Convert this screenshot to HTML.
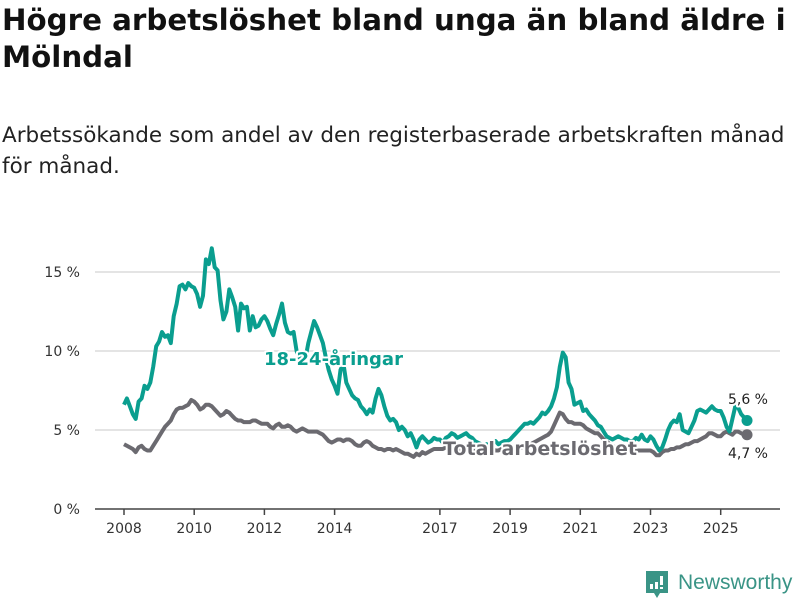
<!DOCTYPE html>
<html><head><meta charset="utf-8"><style>
body{margin:0;width:800px;height:600px;background:#fff;overflow:hidden;font-family:"DejaVu Sans","Liberation Sans",sans-serif;}
h1{position:absolute;left:2px;top:2px;margin:0;font-size:29.3px;font-weight:bold;line-height:37px;color:#111;width:796px}
p{position:absolute;left:2px;top:120px;margin:0;font-size:21.5px;line-height:31px;color:#222;width:796px}
svg{position:absolute;left:0;top:0}
</style></head><body>
<h1>Högre arbetslöshet bland unga än bland äldre i Mölndal</h1>
<p>Arbetssökande som andel av den registerbaserade arbetskraften månad för månad.</p>
<svg id="chart" width="800" height="600"></svg>
<script>
const yTicks=[0,5,10,15];
const xTickYears=[2008,2010,2012,2014,2017,2019,2021,2023,2025];
const startYear=2008;
const youth=[
6.6,7.0,6.5,6.0,5.7,6.8,7.0,7.8,7.6,8.0,9.0,10.3,
10.6,11.2,10.9,11.0,10.5,12.2,13.0,14.1,14.2,13.9,14.3,14.1,
14.0,13.6,12.8,13.5,15.8,15.5,16.5,15.3,15.1,13.2,12.0,12.5,
13.9,13.4,12.8,11.3,13.0,12.7,12.8,11.3,12.2,11.5,11.6,12.0,
12.2,11.9,11.4,11.0,11.7,12.3,13.0,11.8,11.2,11.1,11.2,10.0,
9.6,9.3,9.5,10.5,11.2,11.9,11.5,11.0,10.5,9.6,8.8,8.2,
7.8,7.3,8.8,9.2,8.0,7.6,7.2,7.0,6.9,6.5,6.3,6.0,
6.3,6.1,7.0,7.6,7.2,6.5,5.9,5.6,5.7,5.5,5.0,5.2,
5.0,4.6,4.8,4.4,3.9,4.4,4.6,4.4,4.2,4.3,4.5,4.4,
4.4,4.2,4.5,4.6,4.8,4.7,4.5,4.6,4.7,4.8,4.6,4.5,
4.3,4.2,4.1,4.0,4.1,4.0,4.2,4.3,4.1,4.2,4.3,4.3,
4.4,4.6,4.8,5.0,5.2,5.4,5.4,5.5,5.4,5.6,5.8,6.1,
6.0,6.2,6.5,7.0,7.7,9.0,9.9,9.6,8.0,7.6,6.6,6.7,
6.8,6.2,6.3,6.0,5.8,5.6,5.3,5.2,4.9,4.6,4.5,4.4,
4.5,4.6,4.5,4.4,4.4,4.3,4.3,4.5,4.4,4.7,4.4,4.3,
4.6,4.4,4.0,3.7,3.9,4.4,5.0,5.4,5.6,5.5,6.0,5.0,
4.9,4.8,5.2,5.6,6.2,6.3,6.2,6.1,6.3,6.5,6.3,6.2,
6.2,5.8,5.2,4.9,5.7,6.5,6.4,6.0,5.8,5.6];
const total=[
4.1,4.0,3.9,3.8,3.6,3.9,4.0,3.8,3.7,3.7,4.0,4.3,
4.6,4.9,5.2,5.4,5.6,6.0,6.3,6.4,6.4,6.5,6.6,6.9,
6.8,6.6,6.3,6.4,6.6,6.6,6.5,6.3,6.1,5.9,6.0,6.2,
6.1,5.9,5.7,5.6,5.6,5.5,5.5,5.5,5.6,5.6,5.5,5.4,
5.4,5.4,5.2,5.1,5.3,5.4,5.2,5.2,5.3,5.2,5.0,4.9,
5.0,5.1,5.0,4.9,4.9,4.9,4.9,4.8,4.7,4.5,4.3,4.2,
4.3,4.4,4.4,4.3,4.4,4.4,4.3,4.1,4.0,4.0,4.2,4.3,
4.2,4.0,3.9,3.8,3.8,3.7,3.8,3.8,3.7,3.8,3.7,3.6,
3.5,3.5,3.4,3.3,3.5,3.4,3.6,3.5,3.6,3.7,3.8,3.8,
3.8,3.8,3.9,3.9,3.8,3.8,3.8,3.7,3.7,3.8,3.8,3.8,
3.8,3.7,3.7,3.7,3.8,3.8,3.8,3.7,3.7,3.8,3.8,3.8,
3.8,3.8,3.8,3.9,3.9,4.0,4.1,4.1,4.2,4.3,4.4,4.5,
4.6,4.7,4.9,5.3,5.7,6.1,6.0,5.7,5.5,5.5,5.4,5.4,
5.4,5.3,5.1,5.0,4.9,4.8,4.8,4.6,4.4,4.3,4.1,4.0,
3.9,3.8,3.8,3.8,3.7,3.7,3.7,3.7,3.7,3.7,3.7,3.7,
3.7,3.6,3.4,3.4,3.6,3.7,3.7,3.8,3.8,3.9,3.9,4.0,
4.1,4.1,4.2,4.3,4.3,4.4,4.5,4.6,4.8,4.8,4.7,4.6,
4.6,4.8,4.9,4.8,4.7,4.9,4.9,4.8,4.7,4.7];
const NS='http://www.w3.org/2000/svg';
const svg=document.getElementById('chart');
const x=t=>124+(t-startYear)*35.1;
const y=v=>509-v*15.8;
const xm=i=>x(startYear+i/12);
function mk(tag,attrs,parent){const e=document.createElementNS(NS,tag);for(const k in attrs)e.setAttribute(k,attrs[k]);(parent||svg).appendChild(e);return e;}
yTicks.forEach(v=>{
  if(v>0){const g=mk('line',{x1:95,x2:780,y1:y(v),y2:y(v),stroke:'#dcdcdc','stroke-width':1.5});
  
  }
  const t=mk('text',{x:80,y:y(v)+5,'text-anchor':'end','font-size':14,fill:'#333'});
  t.textContent=v+' %';
  
  
});
const ax=mk('line',{x1:95,x2:780,y1:509,y2:509,stroke:'#444','stroke-width':1.5});


xTickYears.forEach(yr=>{
  const tk=mk('line',{x1:x(yr),x2:x(yr),y1:509,y2:515,stroke:'#444','stroke-width':1.5});
  
  
  const t=mk('text',{x:x(yr),y:533,'text-anchor':'middle','font-size':14,fill:'#333'});
  t.textContent=yr;
  
  
});
function line(data,color,name){
  const p=mk('path',{d:data.map((v,i)=>(i?'L':'M')+xm(i).toFixed(1)+','+y(v).toFixed(1)).join(''),fill:'none',stroke:color,'stroke-width':4,'stroke-linejoin':'round'});
  
  
  const n=data.length-1;
  const c=mk('circle',{cx:xm(n),cy:y(data[n]),r:5.5,fill:color});
  
  
}
line(total,'#6b6a70','total-series-line');
line(youth,'#0a9e8f','youth-series-line');
function label(txt,xx,yy,color,size,weight,anchor,name){
  const t=mk('text',{x:xx,y:yy,fill:color,'font-size':size,'font-weight':weight,'text-anchor':anchor,stroke:'#fff','stroke-width':4,'paint-order':'stroke','stroke-linejoin':'round'});
  t.textContent=txt;
  
  
}
label('18-24-åringar',264,365,'#0a9e8f',18,'bold','start','youth-series-label');
label('Total arbetslöshet',443,455,'#6b6a70',19,'bold','start','total-series-label');
label(String(youth[youth.length-1]).replace('.',',')+' %',768,404,'#222',14,'normal','end','youth-end-value');
label(String(total[total.length-1]).replace('.',',')+' %',768,458,'#222',14,'normal','end','total-end-value');
</script>
<svg width="800" height="600" style="pointer-events:none">
<path d="M646,571 h22 v22 h-8 l-3,5 l-3,-5 h-8 z" fill="#3a9486"/>
<rect x="650" y="584" width="3" height="5" fill="#fff"/><rect x="655" y="582" width="3" height="7" fill="#fff"/><rect x="660" y="576" width="3" height="9" fill="#fff"/><rect x="660" y="587" width="3" height="2" fill="#fff"/>
<text x="678" y="589" font-family="Liberation Sans,sans-serif" font-size="21" fill="#3a9486">Newsworthy</text>
</svg>
</body></html>
